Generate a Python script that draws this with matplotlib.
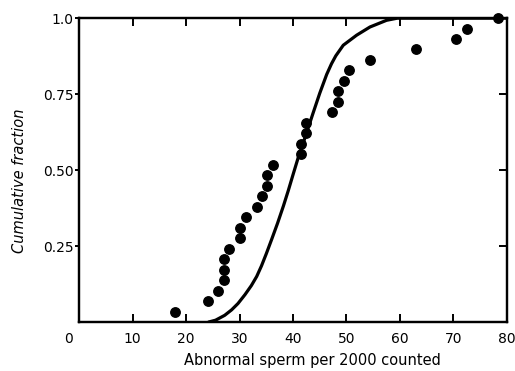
import matplotlib
matplotlib.use("Agg")
import matplotlib.pyplot as plt
import matplotlib.transforms as mtransforms

# --- datos ---
# puntos observados (fraccion acumulada)
obs_x = [18.0, 24.0, 25.9, 27.1, 27.1, 27.1, 28.1, 30.0, 30.0, 31.2,
         33.2, 34.2, 35.1, 35.1, 36.3, 41.4, 41.4, 42.4, 42.4, 47.2,
         48.5, 48.5, 49.6, 50.5, 54.4, 63.0, 70.5, 72.6, 78.4]
obs_y = [0.034, 0.069, 0.103, 0.138, 0.172, 0.207, 0.241, 0.276, 0.310, 0.345,
         0.379, 0.414, 0.448, 0.483, 0.517, 0.552, 0.586, 0.621, 0.655, 0.690,
         0.724, 0.759, 0.793, 0.828, 0.862, 0.897, 0.931, 0.966, 1.000]

# curva teorica
curva_x = [24.2, 25.5, 27.2, 28.5, 29.7, 31.0, 32.2, 33.2, 34.1, 35.0,
           36.0, 37.1, 38.2, 39.1, 40.0, 41.0, 42.4, 43.7, 45.0, 46.3,
           47.2, 48.0, 49.4, 51.9, 54.4, 57.5, 59.5, 65.0, 80.0]
curva_y = [0.0, 0.006, 0.022, 0.040, 0.061, 0.090, 0.120, 0.150, 0.185, 0.225,
           0.272, 0.325, 0.382, 0.432, 0.485, 0.543, 0.615, 0.685, 0.753, 0.815,
           0.850, 0.876, 0.911, 0.944, 0.971, 0.993, 1.0, 1.0, 1.0]

xticks = [0, 10, 20, 30, 40, 50, 60, 70, 80]
yticks = [0.25, 0.50, 0.75, 1.0]
yticklabels = ["0.25", "0.50", "0.75", "1.0"]

plt.rcParams['font.family'] = ['DejaVu Sans']

fig = plt.figure(figsize=(5.15, 3.71), dpi=100)
ax = fig.add_axes([0.154, 0.132, 0.830, 0.819])

ax.plot(curva_x, curva_y, color='black', linewidth=2.3,
        solid_capstyle='round', solid_joinstyle='round', zorder=2)
ax.plot(obs_x, obs_y, 'o', color='black', markersize=6.8, zorder=3, clip_on=False)

ax.set_xlim(0, 80)
ax.set_ylim(0, 1.0)

for s in ax.spines.values():
    s.set_linewidth(1.6)

ax.set_xticks(xticks)
ax.set_xticklabels([str(t) for t in xticks], fontsize=10)
ax.set_yticks(yticks)
ax.set_yticklabels(yticklabels, fontsize=10)

ax.tick_params(axis='x', which='major', bottom=True, top=True, direction='in',
               length=6, width=1.4, pad=7)
ax.tick_params(axis='y', which='major', direction='out', length=3, width=1.4, pad=1)

# ticks de la derecha hacia adentro
ax2 = ax.twinx()
ax2.set_ylim(0, 1.0)
ax2.set_yticks(yticks)
ax2.tick_params(axis='y', direction='in', length=6, width=1.4, labelright=False)
for s in ax2.spines.values():
    s.set_linewidth(1.6)

# el "0" esta un poco a la izquierda
offset = mtransforms.ScaledTranslation(-11 / 100, 0, fig.dpi_scale_trans)
lbl0 = ax.get_xticklabels()[0]
lbl0.set_transform(lbl0.get_transform() + offset)

ax.set_xlabel("Abnormal sperm per 2000 counted", fontsize=10.5)
ax.xaxis.set_label_coords(0.546, -0.128)
ax.xaxis.label.set_va('center')
ax.set_ylabel("Cumulative fraction", fontsize=10.5, style='italic')
ax.yaxis.set_label_coords(-0.139, 0.464)
ax.yaxis.label.set_va('center')

fig.savefig("out.png", dpi=100)
